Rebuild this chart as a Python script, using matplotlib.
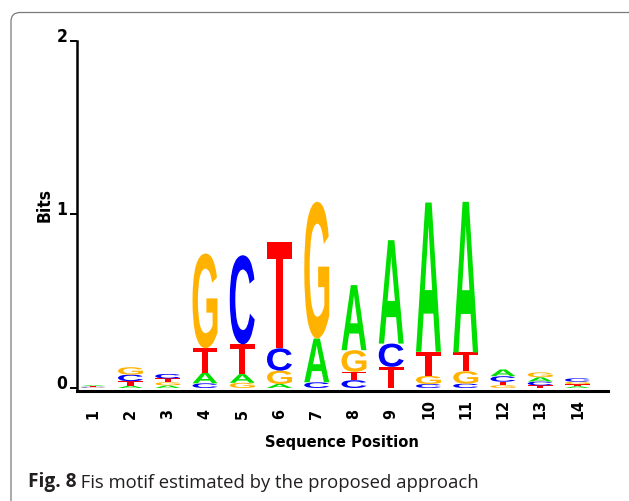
import matplotlib
matplotlib.use('Agg')
import matplotlib.pyplot as plt
from matplotlib.textpath import TextPath
from matplotlib.patches import PathPatch, FancyBboxPatch
from matplotlib.font_manager import FontProperties
from matplotlib.transforms import Affine2D

# ---- data (bits per base at each sequence position) ----
positions = list(range(1, 15))
tick_labels = [str(p) for p in positions]
bits_A = [0.005, 0.013, 0.015, 0.061, 0.050, 0.023, 0.252, 0.375, 0.596, 0.860, 0.868, 0.039, 0.025, 0.010]
bits_C = [0.004, 0.038, 0.026, 0.027, 0.513, 0.129, 0.033, 0.045, 0.134, 0.023, 0.025, 0.032, 0.022, 0.020]
bits_G = [0.003, 0.043, 0.018, 0.546, 0.030, 0.077, 0.788, 0.125, 0.000, 0.047, 0.072, 0.016, 0.028, 0.014]
bits_T = [0.004, 0.026, 0.022, 0.141, 0.172, 0.614, 0.000, 0.048, 0.122, 0.139, 0.108, 0.020, 0.015, 0.012]
bases = ['A', 'C', 'G', 'T']
base_colors = {'A': '#00e000', 'C': '#0000ff', 'G': '#ffb300', 'T': '#ff0000'}
y_ticks = [0, 1, 2]
x_label = 'Sequence Position'
y_label = 'Bits'
caption_bold = 'Fig. 8'
caption_text = ' Fis motif estimated by the proposed approach'

W, H, DPI = 629, 502, 100
fig = plt.figure(figsize=(W / DPI, H / DPI), dpi=DPI)
fig.patch.set_facecolor('white')

# rounded frame (partly outside the figure, as in the source page)
frame = FancyBboxPatch((11, -30), W + 40, H - 13.5 + 30,
                       boxstyle='round,pad=0,rounding_size=9',
                       transform=None, facecolor='none',
                       edgecolor='#7a7a7a', linewidth=0.9)
fig.patches.append(frame)

ax = fig.add_axes([76.5 / W, (H - 391.6) / H, (608 - 76.5) / W, (391.6 - 42) / H])
ax.set_xlim(0.55, 14.82)
ax.set_ylim(-0.015, 2.0)
ax.patch.set_alpha(0)

glyph_fp = FontProperties(family='Liberation Sans', weight='bold')
letter_width = 0.67


def draw_letter(letter, xc, y0, h, color):
    tp = TextPath((0, 0), letter, size=1, prop=glyph_fp)
    ext = tp.get_extents()
    tr = (Affine2D()
          .translate(-ext.x0, -ext.y0)
          .scale(letter_width / ext.width, h / ext.height)
          .translate(xc - letter_width / 2, y0))
    path = tr.transform_path(tp)
    ax.add_patch(PathPatch(path, facecolor=color, edgecolor='none', lw=0))


columns = {'A': bits_A, 'C': bits_C, 'G': bits_G, 'T': bits_T}
for i, pos in enumerate(positions):
    stack = sorted(((columns[b][i], b) for b in bases), key=lambda t: t[0])
    y = 0.0
    for h, b in stack:
        if h > 0:
            draw_letter(b, pos, y, h, base_colors[b])
        y += h

label_font = dict(family='DejaVu Sans', stretch='condensed', weight='bold')

for side in ['top', 'right']:
    ax.spines[side].set_visible(False)
ax.spines['left'].set_linewidth(1.8)
ax.spines['bottom'].set_linewidth(2.2)
ax.spines['left'].set_color('black')
ax.spines['bottom'].set_color('black')

ax.set_yticks(y_ticks)
ax.set_yticklabels([str(t) for t in y_ticks], fontdict=dict(size=12.5, **label_font))
for lbl in ax.get_yticklabels():
    lbl.set_verticalalignment('baseline')
ax.tick_params(axis='y', direction='out', length=4.7, width=1.4, pad=2.0, colors='black')

ax.set_xticks(positions)
ax.set_xticklabels(tick_labels, rotation=90, fontdict=dict(size=11.5, **label_font))
for lbl in ax.get_xticklabels():
    lbl.set_verticalalignment('bottom')
ax.tick_params(axis='x', length=0, pad=19.7)

ax.set_xlabel(x_label, fontsize=11.8, va='center', **label_font)
ax.xaxis.set_label_coords(0.5, (391.6 - 443) / (391.6 - 42))
ax.set_ylabel(y_label, fontsize=12.5, va='center', **label_font)
ax.yaxis.set_label_coords((45 - 76.5) / (608 - 76.5), (391.6 - 205.5) / (391.6 - 42))

# caption
t1 = fig.text(28 / W, (H - 487) / H, caption_bold, fontsize=13.8, fontweight='bold',
              family='Open Sans', color='#231f20', va='baseline', ha='left')
ax.annotate(caption_text, xy=(1, 0), xycoords=t1, va='bottom', ha='left',
            fontsize=13.3, family='Open Sans', color='#231f20', annotation_clip=False)

fig.savefig('out.png', dpi=DPI)
